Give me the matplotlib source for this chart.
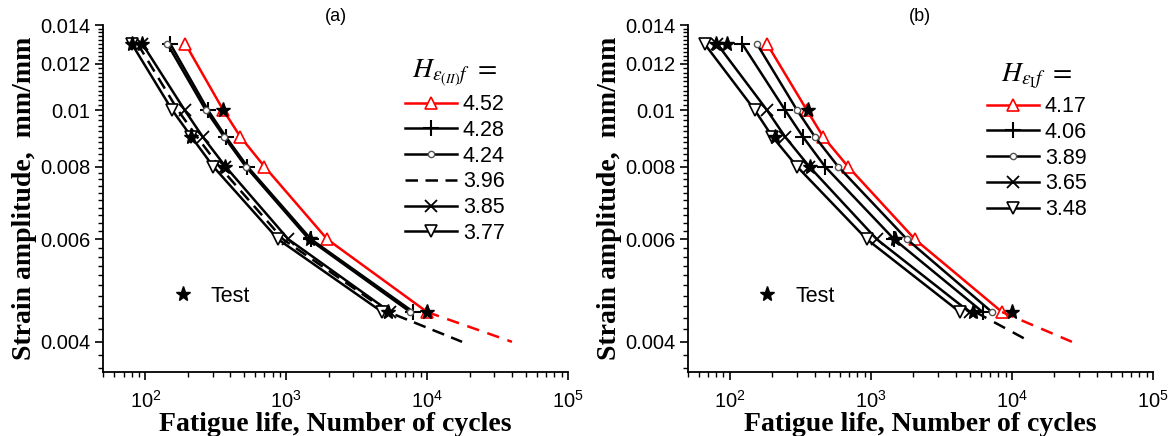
import matplotlib
matplotlib.use('Agg')
import matplotlib.pyplot as plt
from matplotlib.lines import Line2D
from matplotlib.ticker import FixedLocator, NullFormatter, LogLocator
import numpy as np

plt.rcParams['font.family'] = ['Liberation Sans', 'DejaVu Sans']
plt.rcParams['mathtext.fontset'] = 'stix'

# strain amplitude levels of the tests (mm/mm)
strain = [0.013, 0.01, 0.009, 0.008, 0.006, 0.0045]

# experimental points (same in both panels)
test_n = [80, 95, 357, 210, 370, 1480, 5300, 10000]
test_strain = [0.013, 0.013, 0.01, 0.009, 0.008, 0.006, 0.0045, 0.0045]

# panel (a) predictions, H values and fatigue lives
a_labels = ['4.52', '4.28', '4.24', '3.96', '3.85', '3.77']
a_n452 = [192, 357, 472, 700, 1954, 10000]
a_n428 = [150, 278, 372, 530, 1500, 8000]
a_n424 = [143, 268, 362, 515, 1450, 7600]
a_n396 = [88, 170, 232, 335, 950, 5300, 17700]
a_s396 = [0.013, 0.01, 0.009, 0.008, 0.006, 0.0045, 0.004]
a_n385 = [95, 190, 255, 370, 1035, 5470]
a_n377 = [80, 155, 212, 303, 875, 4800]
a_red_ext_n = [10000, 40000]
a_red_ext_s = [0.0045, 0.004]

# panel (b)
b_labels = ['4.17', '4.06', '3.89', '3.65', '3.48']
b_n417 = [183, 351, 458, 687, 2050, 8500]
b_n406 = [122, 246, 329, 472, 1460, 6200]
b_n389 = [155, 299, 400, 585, 1800, 7200]
b_n365 = [81, 183, 246, 365, 1100, 5000]
b_n348 = [66, 150, 200, 299, 935, 4270]
b_red_ext_n = [8500, 26600]
b_red_ext_s = [0.0045, 0.004]
b_blk_ext_n = [5500, 13500]
b_blk_ext_s = [0.0045, 0.004]

DASH = (0, (5, 3))
STY = {
    'tri': dict(color='red', marker='^', ms=9, mfc='white', mec='red', mew=1.2),
    'plus': dict(color='black', marker='+', ms=12, mew=1.5),
    'circ': dict(color='black', marker='o', ms=4.5, mfc='white', mec='#555555', mew=1),
    'dash': dict(color='black', marker=None, ls=DASH),
    'x': dict(color='black', marker='x', ms=9, mew=1.3),
    'tdn': dict(color='black', marker='v', ms=9, mfc='white', mec='black', mew=1.2),
}


def style_axes(ax, title):
    ax.set_xscale('log')
    ax.set_yscale('log')
    ax.set_xlim(50, 1e5)
    ax.set_ylim(0.00355, 0.014)
    for s in ['top', 'right']:
        ax.spines[s].set_visible(False)
    for s in ['left', 'bottom']:
        ax.spines[s].set_linewidth(1.3)
    yt = [0.004, 0.006, 0.008, 0.01, 0.012, 0.014]
    ax.yaxis.set_major_locator(FixedLocator(yt))
    ax.set_yticklabels(['0.004', '0.006', '0.008', '0.01', '0.012', '0.014'])
    ax.yaxis.set_minor_locator(FixedLocator(np.arange(36, 141, 2) / 10000))
    ax.yaxis.set_minor_formatter(NullFormatter())
    xt = [100, 1000, 10000, 100000]
    ax.xaxis.set_major_locator(FixedLocator(xt))
    ax.set_xticklabels([r'$\mathregular{10^{%d}}$' % e for e in [2, 3, 4, 5]])
    ax.xaxis.set_minor_locator(LogLocator(base=10, subs=np.arange(2, 10)))
    ax.xaxis.set_minor_formatter(NullFormatter())
    ax.tick_params(which='major', direction='out', length=6, width=1.2, labelsize=14.5)
    ax.tick_params(which='minor', direction='out', length=3.5, width=1)
    ax.tick_params(axis='x', pad=7)
    ax.tick_params(axis='y', pad=3)
    ax.set_xlabel('Fatigue life, Number of cycles', family='Liberation Serif',
                  fontweight='bold', fontsize=20, labelpad=0)
    ax.set_ylabel('Strain amplitude,  mm/mm', family='Liberation Serif',
                  fontweight='bold', fontsize=20, labelpad=2)
    ax.set_title(title, fontsize=13, pad=2)


fig = plt.figure(figsize=(11.71, 4.36), dpi=100)
ax1 = fig.add_axes([103 / 1171, 64 / 436, 465 / 1171, 347 / 436])
ax2 = fig.add_axes([687.5 / 1171, 64 / 436, 465.5 / 1171, 347 / 436])

# panel (a)
a_series = [(a_n452, strain, 'tri'), (a_n428, strain, 'plus'), (a_n424, strain, 'circ'),
            (a_n396, a_s396, 'dash'), (a_n385, strain, 'x'), (a_n377, strain, 'tdn')]
handles = []
for (n, s, key), lab in zip(a_series, a_labels):
    kw = dict(STY[key])
    ls = kw.pop('ls', '-')
    h, = ax1.plot(n, s, ls=ls, lw=1.8, label=lab, **kw)
    handles.append(h)
ax1.plot(a_red_ext_n, a_red_ext_s, color='red', lw=1.8, ls=(0, (5, 3.5)))
ax1.plot(test_n, test_strain, ls='none', marker='*', ms=11, color='black', zorder=5)

# panel (b)
b_series = [(b_n417, 'tri'), (b_n406, 'plus'), (b_n389, 'circ'), (b_n365, 'x'), (b_n348, 'tdn')]
handles_b = []
for (n, key), lab in zip(b_series, b_labels):
    kw = dict(STY[key])
    h, = ax2.plot(n, strain, ls='-', lw=1.8, label=lab, **kw)
    handles_b.append(h)
ax2.plot(b_red_ext_n, b_red_ext_s, color='red', lw=1.8, ls=(0, (5, 3.5)))
ax2.plot(b_blk_ext_n, b_blk_ext_s, color='black', lw=1.8, ls=(0, (5, 3.5)))
ax2.plot(test_n, test_strain, ls='none', marker='*', ms=11, color='black', zorder=5)

for ax, hs, title, anchor in [(ax1, handles, r'$H_{\varepsilon_{(II)}f}\ =$', (0.626, 0.935)),
                              (ax2, handles_b, r'$H_{\varepsilon_{\mathrm{I}}f}\ =$', (0.62, 0.925))]:
    leg = ax.legend(handles=hs, loc='upper left', bbox_to_anchor=anchor, frameon=False,
                    fontsize=15.5, handlelength=2.4, handletextpad=0.3, labelspacing=0.22,
                    borderpad=0, title=title, title_fontsize=20)
    ax.add_artist(leg)
    star = Line2D([], [], ls='none', marker='*', ms=11, color='black')
    ax.legend(handles=[star], labels=['Test'], loc='upper left', frameon=False,
              bbox_to_anchor=(0.125, 0.28), fontsize=15.5, handlelength=1.0,
              handletextpad=0.8, borderpad=0)

style_axes(ax1, '(a)')
style_axes(ax2, '(b)')

plt.savefig('out.png', dpi=100)
plt.close()
